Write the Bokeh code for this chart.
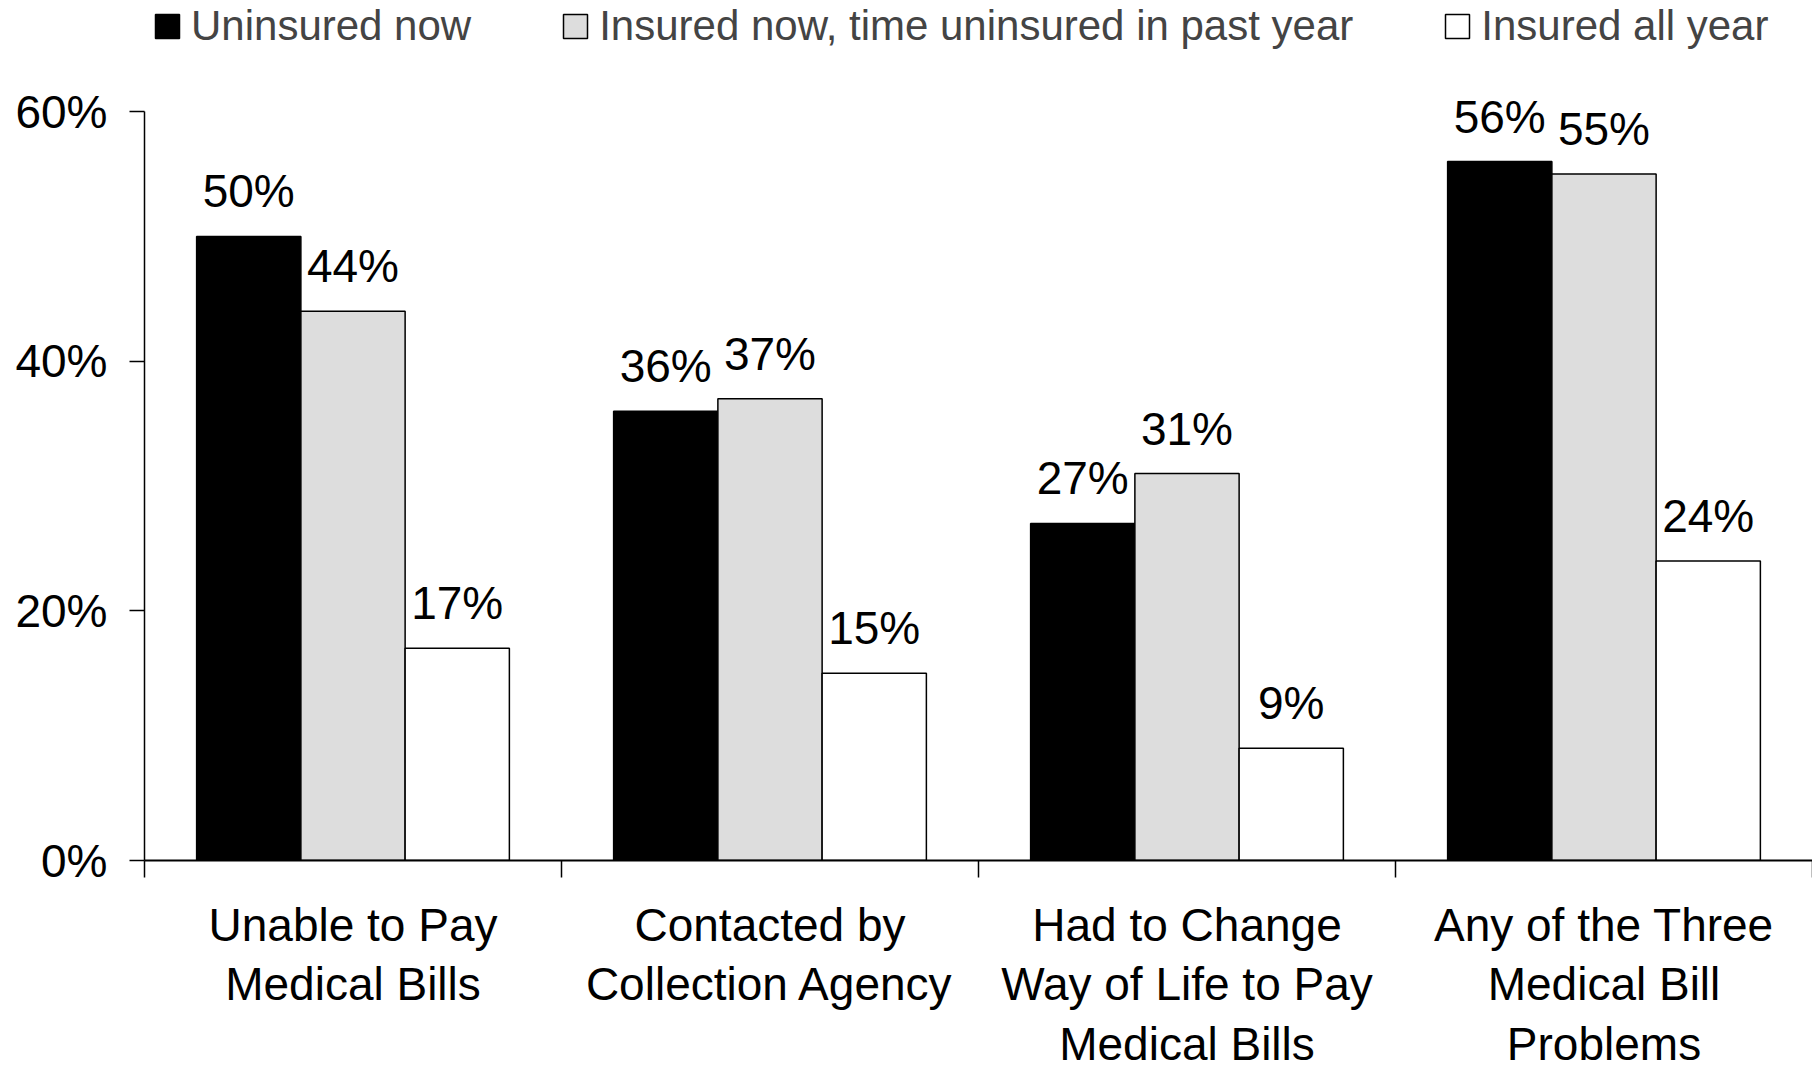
import numpy as np
from bokeh.plotting import figure
from bokeh.models import (ColumnDataSource, FixedTicker, PrintfTickFormatter, Legend,
                          LegendItem, LabelSet)
from bokeh.core.properties import value
from bokeh.embed import file_html
from bokeh.resources import INLINE

categories = ["Unable to Pay\nMedical Bills",
              "Contacted by\nCollection Agency",
              "Had to Change\nWay of Life to Pay\nMedical Bills",
              "Any of the Three\nMedical Bill\nProblems"]
series_names = ["Uninsured now", "Insured now, time uninsured in past year", "Insured all year"]
uninsured_now = [50, 36, 27, 56]
insured_gap = [44, 37, 31, 55]
insured_all_year = [17, 15, 9, 24]
y_ticks = [0, 20, 40, 60]

FONT = "Liberation Sans"
fills = ["#000000", "#DDDDDD", "#FFFFFF"]
series = [uninsured_now, insured_gap, insured_all_year]

p = figure(width=1812, height=1074, x_range=(0, 4), y_range=(0, 68.9),
           output_backend="svg", toolbar_location=None,
           min_border_left=144, min_border_top=0, min_border_right=0, min_border_bottom=214)
p.outline_line_color = None
p.xgrid.visible = False
p.ygrid.visible = False

bar_w = 0.25
offsets = [-0.25, 0.0, 0.25]
base = np.arange(len(categories)) + 0.5
items = []
for name, vals, fc, off in zip(series_names, series, fills, offsets):
    src = ColumnDataSource(dict(x=base + off, top=vals, lab=[f"{v}%" for v in vals]))
    r = p.vbar(x="x", top="top", width=bar_w, bottom=0, source=src,
               fill_color=fc, line_color="black", line_width=1.5)
    items.append(LegendItem(label=name, renderers=[r]))
    p.add_layout(LabelSet(x="x", y="top", text="lab", source=src, y_offset=19,
                          text_align="center", text_baseline="bottom",
                          text_font=value(FONT), text_font_size="46px", text_color="black"))

legend = Legend(items=items, orientation="horizontal", location=(8, 810),
                glyph_width=30, glyph_height=30, label_standoff=9, spacing=89,
                label_text_font=FONT, label_text_font_size="42px",
                border_line_color=None, background_fill_alpha=0, padding=0, margin=0)
p.add_layout(legend)

xa = p.xaxis[0]
xa.ticker = FixedTicker(ticks=list(base), minor_ticks=list(range(len(categories) + 1)))
xa.major_label_overrides = {float(b): c for b, c in zip(base, categories)}
xa.major_tick_line_color = None
xa.major_tick_out = 0
xa.major_tick_in = 0
xa.minor_tick_out = 17
xa.minor_tick_in = 0
xa.minor_tick_line_color = "black"
xa.minor_tick_line_width = 1.5
xa.axis_line_width = 2
xa.axis_line_color = "black"
xa.major_label_text_font = FONT
xa.major_label_text_font_size = "46px"
xa.major_label_text_line_height = 1.15
xa.major_label_text_color = "black"
xa.major_label_standoff = 21

ya = p.yaxis[0]
ya.ticker = FixedTicker(ticks=y_ticks)
ya.bounds = (0, 60)
ya.formatter = PrintfTickFormatter(format="%d%%")
ya.major_tick_out = 15
ya.major_tick_in = 0
ya.major_tick_line_width = 1.5
ya.minor_tick_line_color = None
ya.axis_line_width = 1.5
ya.axis_line_color = "black"
ya.major_label_text_font = FONT
ya.major_label_text_font_size = "46px"
ya.major_label_text_color = "black"
ya.major_label_standoff = 22

open("out.html", "w").write(file_html(p, INLINE))
